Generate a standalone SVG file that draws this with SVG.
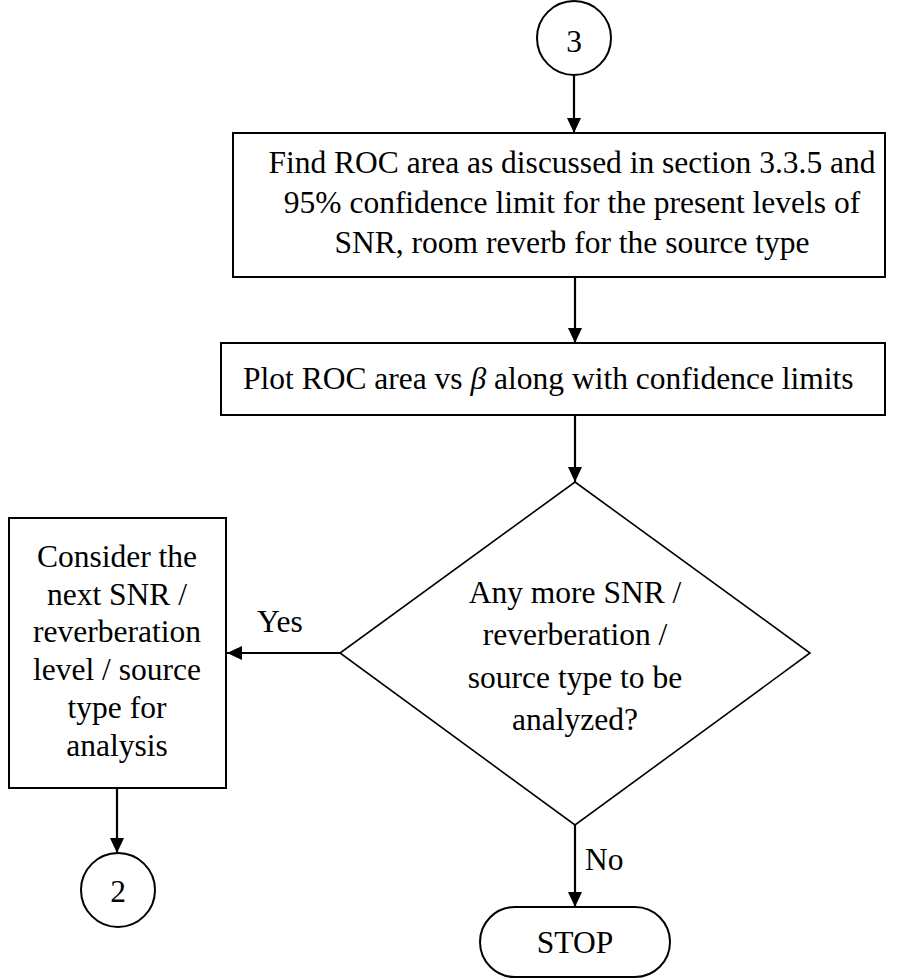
<svg xmlns="http://www.w3.org/2000/svg" width="923" height="980" viewBox="0 0 923 980">
<style>
.n{fill:#fff;stroke:#000;stroke-width:2}
.d{fill:#fff;stroke:#000;stroke-width:1.6}
.t{font-family:"Liberation Serif","Times New Roman",serif;font-size:31.5px;fill:#000}
.m{text-anchor:middle}
.c{fill:none;stroke:#000;stroke-width:2.2}
</style>
<defs>
<marker id="ah" markerUnits="userSpaceOnUse" markerWidth="16" markerHeight="16" viewBox="0 0 16 16" refX="15" refY="8" orient="auto">
<path d="M0,1 L15,8 L0,15 Z" fill="#000"/>
</marker>
</defs>
<rect width="923" height="980" fill="#fff"/>
<g id="connectors">
<line class="c" x1="574" y1="75" x2="574" y2="133" marker-end="url(#ah)"/>
<line class="c" x1="575" y1="277" x2="575" y2="343" marker-end="url(#ah)"/>
<line class="c" x1="575" y1="415" x2="575" y2="482" marker-end="url(#ah)"/>
<line class="c" x1="340" y1="653" x2="227" y2="653" marker-end="url(#ah)"/>
<line class="c" x1="117" y1="788" x2="117" y2="853" marker-end="url(#ah)"/>
<line class="c" x1="575" y1="825" x2="575" y2="907" marker-end="url(#ah)"/>
<text class="t" x="257" y="632">Yes</text>
<text class="t" x="585" y="870">No</text>
</g>
<g id="conn3">
<circle class="n" cx="574" cy="38" r="37"/>
<text class="t m" x="574" y="52">3</text>
</g>
<g id="box1">
<rect class="n" x="233" y="133" width="652" height="144"/>
<text class="t m" x="572" y="173">Find ROC area as discussed in section 3.3.5 and</text>
<text class="t m" x="572" y="213">95% confidence limit for the present levels of</text>
<text class="t m" x="572" y="253">SNR, room reverb for the source type</text>
</g>
<g id="box2">
<rect class="n" x="221" y="343" width="664" height="72"/>
<text class="t" x="243" y="389">Plot ROC area vs <tspan font-style="italic">β</tspan> along with confidence limits</text>
</g>
<g id="decision">
<polygon class="d" points="575,482 810,653 575,825 340,653"/>
<text class="t m" x="575" y="603">Any more SNR /</text>
<text class="t m" x="575" y="645">reverberation /</text>
<text class="t m" x="575" y="688">source type to be</text>
<text class="t m" x="575" y="730">analyzed?</text>
</g>
<g id="box3">
<rect class="n" x="9" y="518" width="217" height="270"/>
<text class="t m" x="117" y="567">Consider the</text>
<text class="t m" x="117" y="605">next SNR /</text>
<text class="t m" x="117" y="642">reverberation</text>
<text class="t m" x="117" y="680">level / source</text>
<text class="t m" x="117" y="718">type for</text>
<text class="t m" x="117" y="756">analysis</text>
</g>
<g id="conn2">
<circle class="n" cx="118" cy="890" r="37"/>
<text class="t m" x="118" y="902">2</text>
</g>
<g id="stop">
<rect class="n" x="480" y="907" width="190" height="70" rx="35" ry="35"/>
<text class="t m" x="575" y="953">STOP</text>
</g>
</svg>
